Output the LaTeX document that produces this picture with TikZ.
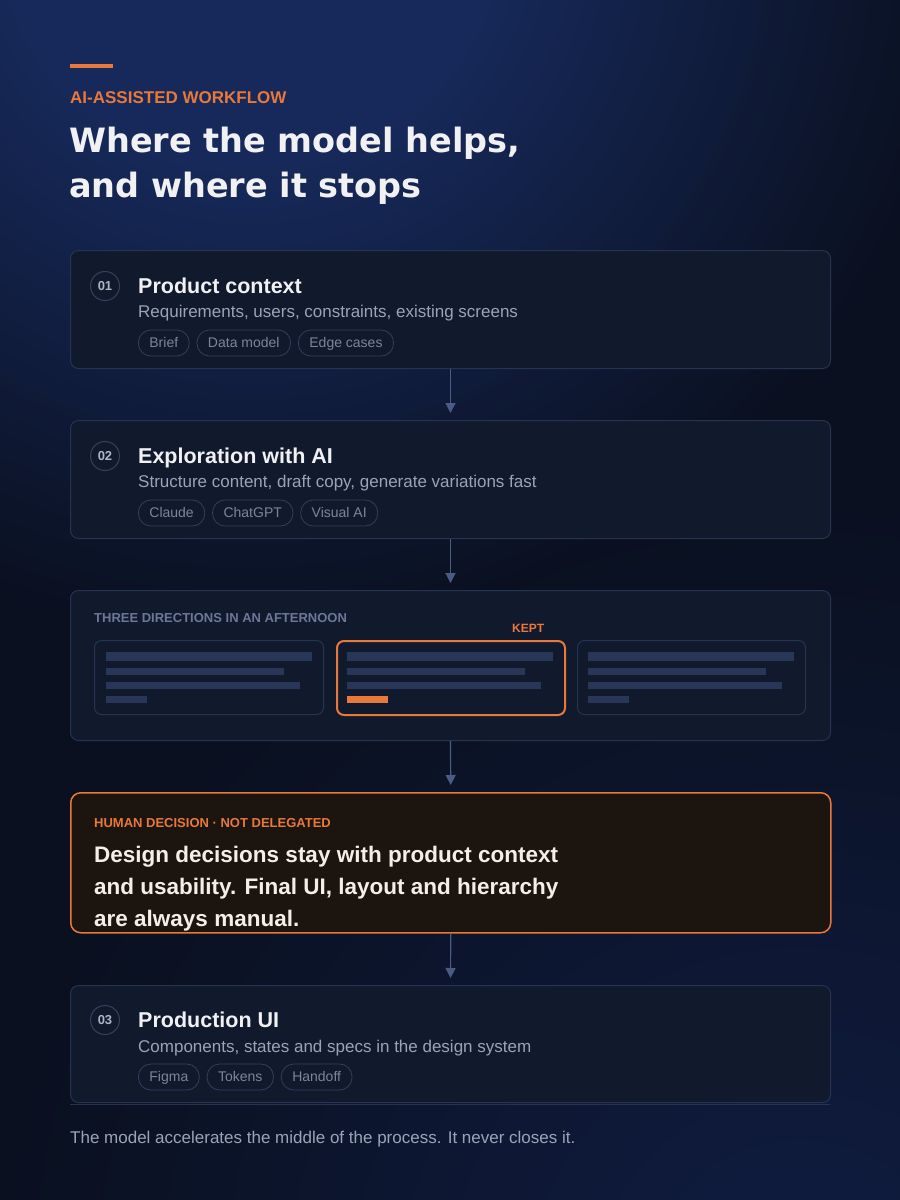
\documentclass[tikz,border=0pt]{standalone}
\usepackage{fontspec}
\setmainfont{Liberation Sans}
\newfontfamily\headfont{DejaVu Sans}
\usetikzlibrary{positioning,arrows.meta}

\definecolor{bgbase}{HTML}{0A1020}
\definecolor{bgglow}{HTML}{16295A}
\definecolor{bgglowlow}{HTML}{101D42}
\definecolor{accent}{HTML}{E8793A}
\definecolor{headtext}{HTML}{F1F1F3}
\definecolor{cardfill}{HTML}{111A2D}
\definecolor{cardline}{HTML}{263351}
\definecolor{subtext}{HTML}{9BA4B6}
\definecolor{pilltext}{HTML}{7C869B}
\definecolor{pillline}{HTML}{313F5E}
\definecolor{numline}{HTML}{34425F}
\definecolor{numtext}{HTML}{AEB6C6}
\definecolor{flowline}{HTML}{4A5B84}
\definecolor{barfill}{HTML}{283758}
\definecolor{labelgray}{HTML}{6C7896}
\definecolor{humanfill}{HTML}{1B140F}
\definecolor{humantext}{HTML}{F3EEE8}

\begin{document}
\begin{tikzpicture}[
    x=1pt, y=-1pt,
    node distance=7pt,
    card/.style={rectangle, draw=cardline, fill=cardfill, line width=1pt, rounded corners=8pt, minimum width=760pt, anchor=north west},
    mini/.style={rectangle, draw=cardline, line width=1pt, rounded corners=7pt, minimum height=74pt, anchor=north west},
    num/.style={circle, draw=numline, line width=1pt, minimum size=29pt, inner sep=0pt, text=numtext, font=\bfseries\fontsize{13}{13}\selectfont},
    steptitle/.style={anchor=base west, inner sep=0pt, text=headtext, font=\bfseries\fontsize{21.5}{24}\selectfont},
    stepsub/.style={anchor=base west, inner sep=0pt, text=subtext, font=\fontsize{17}{20}\selectfont},
    pill/.style={rectangle, draw=pillline, line width=0.8pt, rounded corners=12.5pt, minimum height=26pt, inner xsep=11pt, inner ysep=0pt, text height=11.5pt, text depth=2.5pt, text=pilltext, font=\fontsize{14}{14}\selectfont},
    caps/.style={anchor=base west, inner sep=0pt, font=\bfseries\fontsize{13}{13}\selectfont},
    bar/.style={fill=barfill},
    flow/.style={draw=flowline, line width=1.2pt, shorten >=7pt, -{Triangle[width=10pt,length=10pt]}}
]

% Background: dark base with two soft glows
\useasboundingbox (0,0) rectangle (900,1200);
\begin{scope}
\clip (0,0) rectangle (900,1200);
\fill[bgbase] (0,0) rectangle (900,1200);
\foreach \k [evaluate=\k as \r using 800-16*\k, evaluate=\k as \p using int(\k*100/49)] in {0,...,49}
  \fill[bgglowlow!\p!bgbase] (800,1300) circle (\r);
\foreach \k [evaluate=\k as \r using 720-8*\k, evaluate=\k as \p using int(\k*100/59)] in {0,...,59}
  \fill[bgglow!\p!bgbase] (250,-80) circle (\r);
\end{scope}

% Heading
\fill[accent] (70,64) rectangle (113,68);
\node[caps, text=accent, font=\bfseries\fontsize{17}{17}\selectfont] (kicker) at (70,103) {AI-ASSISTED WORKFLOW};
\node[anchor=base west, inner sep=0pt, text=headtext, font=\headfont\bfseries\fontsize{33.5}{33.5}\selectfont] (head1) at (69,152) {Where the model helps,};
\node[anchor=base west, inner sep=0pt, text=headtext, font=\headfont\bfseries\fontsize{33.5}{33.5}\selectfont] (head2) at (69,197) {and where it stops};

% Step 01
\node[card, minimum height=118pt] (context) at (70,250) {};
\node[num] (n1) at (105,286) {01};
\node[steptitle] (t1) at (138,293) {Product context};
\node[stepsub] (s1) at (138,317) {Requirements, users, constraints, existing screens};
\node[pill, anchor=west] (brief) at (138,343) {Brief};
\node[pill, right=of brief] (datamodel) {Data model};
\node[pill, right=of datamodel] (edgecases) {Edge cases};

% Step 02
\node[card, minimum height=118pt] (explore) at (70,420) {};
\node[num] (n2) at (105,456) {02};
\node[steptitle] (t2) at (138,463) {Exploration with AI};
\node[stepsub] (s2) at (138,487) {Structure content, draft copy, generate variations fast};
\node[pill, anchor=west] (claude) at (138,513) {Claude};
\node[pill, right=of claude] (chatgpt) {ChatGPT};
\node[pill, right=of chatgpt] (visualai) {Visual AI};

% Three directions
\node[card, minimum height=150pt] (directions) at (70,590) {};
\node[caps, text=labelgray] (dirlabel) at (94,622.5) {THREE DIRECTIONS IN AN AFTERNOON};
\node[caps, text=accent, font=\bfseries\fontsize{12}{12}\selectfont] (kept) at (512,632) {KEPT};
\node[mini, minimum width=229pt] (optA) at (94,640) {};
\node[mini, minimum width=228pt, draw=accent, line width=2pt] (optB) at (336,640) {};
\node[mini, minimum width=228pt] (optC) at (577,640) {};
\fill[bar] (106,652) rectangle +(206,9);
\fill[bar] (106,668) rectangle +(178,7);
\fill[bar] (106,682) rectangle +(194,7);
\fill[bar] (106,696) rectangle +(41,7);
\fill[bar] (347,652) rectangle +(206,9);
\fill[bar] (347,668) rectangle +(178,7);
\fill[bar] (347,682) rectangle +(194,7);
\fill[accent] (347,696) rectangle +(41,7);
\fill[bar] (588,652) rectangle +(206,9);
\fill[bar] (588,668) rectangle +(178,7);
\fill[bar] (588,682) rectangle +(194,7);
\fill[bar] (588,696) rectangle +(41,7);

% Human decision
\node[card, minimum height=140pt, draw=accent, fill=humanfill, line width=1.5pt, rounded corners=10pt] (human) at (70,792) {};
\node[caps, text=accent] (humanlabel) at (94,827) {HUMAN DECISION · NOT DELEGATED};
\node[anchor=base west, inner sep=0pt, text=humantext, font=\bfseries\fontsize{22.5}{22.5}\selectfont] (human1) at (94,862) {Design decisions stay with product context};
\node[anchor=base west, inner sep=0pt, text=humantext, font=\bfseries\fontsize{22.5}{22.5}\selectfont] (human2) at (94,894) {and usability. Final UI, layout and hierarchy};
\node[anchor=base west, inner sep=0pt, text=humantext, font=\bfseries\fontsize{22.5}{22.5}\selectfont] (human3) at (94,926) {are always manual.};

% Step 03
\node[card, minimum height=117pt] (production) at (70,985) {};
\node[num] (n3) at (105,1020) {03};
\node[steptitle] (t3) at (138,1027) {Production UI};
\node[stepsub] (s3) at (138,1052) {Components, states and specs in the design system};
\node[pill, anchor=west] (figma) at (138,1077) {Figma};
\node[pill, right=of figma] (tokens) {Tokens};
\node[pill, right=of tokens] (handoff) {Handoff};

% Flow arrows
\draw[flow] (context.south) -- (explore.north);
\draw[flow] (explore.south) -- (directions.north);
\draw[flow] (directions.south) -- (human.north);
\draw[flow] (human.south) -- (production.north);

% Footer
\draw[cardline, line width=1pt] (70,1104) -- (830,1104);
\node[anchor=base west, inner sep=0pt, text=subtext, font=\fontsize{17}{17}\selectfont] (footer) at (70,1143) {The model accelerates the middle of the process. It never closes it.};

\end{tikzpicture}
\end{document}
